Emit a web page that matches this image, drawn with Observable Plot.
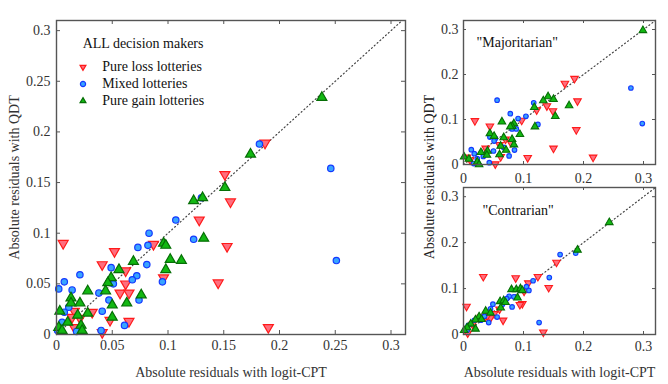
<!DOCTYPE html>
<html><head><meta charset="utf-8">
<script src="https://cdn.jsdelivr.net/npm/d3@7"></script>
<script src="https://cdn.jsdelivr.net/npm/@observablehq/plot@0.6"></script>
<style>
body{margin:0;background:#fff;}
#wrap{position:relative;width:668px;height:384px;font-family:"Liberation Serif","Times New Roman",Times,serif;color:#222;}
#wrap > svg{position:absolute;}
.lbl{position:absolute;font-size:14px;white-space:nowrap;}
</style></head><body><div id="wrap"></div>
<script>
// ---------- data: [logit-CPT residual, QDT residual] ----------
const allLoss = [[0.006,0.090],[0.052,0.082],[0.041,0.069],[0.062,0.063],[0.087,0.089],[0.096,0.056],[0.062,0.050],[0.057,0.041],[0.065,0.041],[0.016,0.023],[0.032,0.022],[0.014,0.017],[0.021,0.016],[0.048,0.014],[0.065,0.013],[0.016,0.007],[0.041,0.002],[0.128,0.113],[0.145,0.051],[0.153,0.087],[0.156,0.131],[0.151,0.158],[0.187,0.189],[0.190,0.007]];
const allMixed = [[0.107,0.113],[0.083,0.100],[0.082,0.088],[0.073,0.086],[0.081,0.069],[0.049,0.066],[0.021,0.059],[0.072,0.058],[0.068,0.054],[0.007,0.052],[0.095,0.052],[0.051,0.050],[0.002,0.045],[0.014,0.044],[0.038,0.041],[0.047,0.034],[0.074,0.034],[0.011,0.027],[0.007,0.022],[0.041,0.023],[0.123,0.094],[0.005,0.012],[0.061,0.009],[0.040,0.004],[0.018,0.003],[0.001,0.004],[0.130,0.135],[0.182,0.188],[0.246,0.164],[0.251,0.073]];
const allGain = [[0.123,0.132],[0.131,0.135],[0.151,0.145],[0.096,0.090],[0.098,0.088],[0.132,0.095],[0.102,0.074],[0.112,0.073],[0.069,0.072],[0.098,0.064],[0.056,0.064],[0.049,0.056],[0.046,0.051],[0.028,0.043],[0.044,0.043],[0.076,0.039],[0.013,0.036],[0.013,0.031],[0.021,0.031],[0.063,0.031],[0.050,0.029],[0.003,0.023],[0.028,0.021],[0.019,0.019],[0.050,0.017],[0.010,0.012],[0.022,0.009],[0.002,0.007],[0.023,0.004],[0.005,0.004],[0.174,0.178],[0.238,0.234]];

const majLoss = [[0.169,0.180],[0.185,0.191],[0.190,0.141],[0.139,0.130],[0.149,0.119],[0.122,0.121],[0.150,0.036],[0.216,0.016],[0.188,0.077],[0.107,0.015],[0.097,0.098],[0.019,0.097],[0.044,0.085],[0.070,0.056],[0.079,0.048],[0.060,0.044],[0.037,0.036],[0.053,0.001],[0.062,0.017],[0.006,0.016],[0.011,0.010]];
const majMixed = [[0.056,0.143],[0.279,0.170],[0.298,0.091],[0.117,0.137],[0.078,0.113],[0.091,0.102],[0.104,0.107],[0.124,0.089],[0.088,0.079],[0.081,0.079],[0.044,0.061],[0.053,0.058],[0.051,0.052],[0.067,0.038],[0.050,0.030],[0.076,0.019],[0.085,0.032],[0.013,0.033],[0.033,0.018],[0.043,0.004],[0.018,0.024],[0.023,0.013],[0.017,0.002]];
const majGain = [[0.299,0.298],[0.141,0.151],[0.150,0.145],[0.133,0.142],[0.176,0.131],[0.118,0.127],[0.153,0.107],[0.064,0.095],[0.084,0.091],[0.081,0.085],[0.078,0.084],[0.119,0.084],[0.094,0.067],[0.044,0.069],[0.051,0.063],[0.067,0.060],[0.081,0.056],[0.084,0.044],[0.062,0.041],[0.071,0.032],[0.040,0.030],[0.029,0.027],[0.060,0.022],[0.039,0.021],[0.001,0.017],[0.009,0.012],[0.023,0.006],[0.026,0.000]];

const conLoss = [[0.033,0.126],[0.087,0.123],[0.124,0.126],[0.108,0.112],[0.155,0.157],[0.142,0.102],[0.101,0.094],[0.098,0.067],[0.094,0.065],[0.005,0.061],[0.066,0.031],[0.133,0.005],[0.051,0.045],[0.037,0.039],[0.029,0.037],[0.045,0.036],[0.015,0.022],[0.007,0.003],[0.040,0.041],[0.060,0.055]];
const conMixed = [[0.161,0.174],[0.187,0.177],[0.143,0.124],[0.116,0.117],[0.105,0.104],[0.109,0.096],[0.076,0.083],[0.084,0.082],[0.072,0.078],[0.081,0.060],[0.049,0.066],[0.045,0.056],[0.056,0.038],[0.042,0.026],[0.126,0.026],[0.029,0.031],[0.018,0.031],[0.008,0.020],[0.006,0.009],[0.065,0.066],[0.035,0.040]];
const conGain = [[0.243,0.244],[0.190,0.184],[0.080,0.098],[0.088,0.098],[0.095,0.100],[0.098,0.096],[0.090,0.080],[0.061,0.072],[0.067,0.074],[0.062,0.058],[0.037,0.051],[0.026,0.039],[0.020,0.032],[0.012,0.023],[0.006,0.015],[0.020,0.012],[0.001,0.009],[0.045,0.047],[0.070,0.070],[0.030,0.033]];

const mainTicks = [0, 0.05, 0.1, 0.15, 0.2, 0.25, 0.3];
const sideTicks = [0, 0.1, 0.2, 0.3];
const mainDiagonal = [0, 0.31];
const sideDiagonal = [0, 0.32];
const legendTitle = "ALL decision makers";
const legendLabels = ["Pure loss lotteries", "Mixed lotteries", "Pure gain lotteries"];
const xTitle = "Absolute residuals with logit-CPT";
const yTitle = "Absolute residuals with QDT";
const panelTitles = ["\"Majoritarian\"", "\"Contrarian\""];

// ---------- styles ----------
const kinds = {
  loss:  {symbol: "triangle", rotate: 180, fill: "#ff6e7e", stroke: "#ff1a1a"},
  mixed: {symbol: "circle", rotate: 0, fill: "#38a4ff", stroke: "#1438ff"},
  gain:  {symbol: "triangle", rotate: 0, fill: "#12b812", stroke: "#066e06"}
};
const fmt = d => String(d);
const axisColor = "#555";
const FONT = "'Liberation Serif', 'Times New Roman', Times, serif";

function panel(o) {
  const pw = o.width - o.ml - o.mr, ph = o.height - o.mt - o.mb;
  const dots = (data, k, r) => Plot.dot(data, {
    x: d => d[0], y: d => d[1], symbol: kinds[k].symbol, rotate: kinds[k].rotate,
    fill: kinds[k].fill, stroke: kinds[k].stroke, strokeWidth: o.sw, r
  });
  const tk = {stroke: axisColor, strokeWidth: 1};
  return Plot.plot({
    width: o.width, height: o.height,
    marginLeft: o.ml, marginRight: o.mr, marginTop: o.mt, marginBottom: o.mb,
    style: {fontFamily: FONT, fontSize: "14px", color: "#222", background: "transparent", overflow: "visible"},
    x: {domain: o.xDomain},
    y: {domain: o.yDomain},
    marks: [
      Plot.line(o.diag, {x: d => d, y: d => d, stroke: "#444", strokeWidth: 1.2, strokeDasharray: "1,2.8"}),
      dots(o.loss, "loss", o.rt),
      dots(o.mixed, "mixed", o.rc),
      dots(o.gain, "gain", o.rt),
      Plot.ruleX(o.ticks, {x: d => d, insetTop: ph - o.ts, ...tk}),
      Plot.ruleX(o.ticks, {x: d => d, insetBottom: ph - o.ts, ...tk}),
      Plot.ruleY(o.ticks, {y: d => d, insetRight: pw - o.ts, ...tk}),
      Plot.ruleY(o.ticks, {y: d => d, insetLeft: pw - o.ts, ...tk}),
      Plot.frame({stroke: axisColor, strokeWidth: 1.4}),
      Plot.axisX(o.ticks, {anchor: "bottom", tickSize: 0, tickPadding: o.xpad, tickFormat: fmt, fill: "#333", fontSize: 14,
        label: o.xLabel, labelAnchor: "center", labelArrow: "none", labelOffset: 42}),
      Plot.axisY(o.ticks, {anchor: "left", tickSize: 0, tickPadding: o.ypad, tickFormat: fmt, fill: "#333", fontSize: 14,
        label: o.yLabel, labelAnchor: "center", labelArrow: "none", labelOffset: 47}),
      o.title ? Plot.text([o.title], {frameAnchor: "top-left", dx: o.tdx, dy: o.tdy, textAnchor: "start", lineAnchor: "middle", fontSize: 14, fill: "#111"}) : null
    ]
  });
}

const wrap = document.getElementById("wrap");

const main = panel({width: 420, height: 384, ml: 56, mr: 15, mt: 20, mb: 50,
  xDomain: [0, 0.313], yDomain: [0, 0.31], ticks: mainTicks, diag: mainDiagonal,
  loss: allLoss, mixed: allMixed, gain: allGain, rt: 3.7, rc: 3.2, sw: 1.2, ts: 4,
  xpad: 6, ypad: 6, xLabel: xTitle, yLabel: yTitle});
main.style.left = "0px"; main.style.top = "0px";
wrap.appendChild(main);

const maj = panel({width: 248, height: 184, ml: 43, mr: 13, mt: 20, mb: 20,
  xDomain: [0, 0.32], yDomain: [0, 0.32], ticks: sideTicks, diag: sideDiagonal,
  loss: majLoss, mixed: majMixed, gain: majGain, rt: 2.8, rc: 2.3, sw: 1.1, ts: 3,
  xpad: 9, ypad: 5, xLabel: null, yLabel: null, title: panelTitles[0], tdx: 13, tdy: 22});
maj.style.left = "420px"; maj.style.top = "0px";
wrap.appendChild(maj);

const con = panel({width: 248, height: 217, ml: 43, mr: 13, mt: 20, mb: 50,
  xDomain: [0, 0.32], yDomain: [0, 0.32], ticks: sideTicks, diag: sideDiagonal,
  loss: conLoss, mixed: conMixed, gain: conGain, rt: 2.8, rc: 2.3, sw: 1.1, ts: 3,
  xpad: 7, ypad: 5, xLabel: xTitle, yLabel: null, title: panelTitles[1], tdx: 19, tdy: 23});
con.style.left = "420px"; con.style.top = "167px";
wrap.appendChild(con);

// shared y label for the right panels
const yl = document.createElement("div");
yl.className = "lbl";
yl.textContent = yTitle;
yl.style.left = "430px"; yl.style.top = "177px";
yl.style.transform = "translate(-50%,-50%) rotate(-90deg)";
wrap.appendChild(yl);

// legend (HTML overlay)
const leg = document.createElement("div");
leg.style.cssText = "position:absolute;left:74.7px;top:36px;font-size:14px;color:#111;";
const t = document.createElement("div");
t.textContent = legendTitle;
t.style.cssText = "position:absolute;left:8px;top:0px;white-space:nowrap;line-height:16px;";
leg.appendChild(t);
const keyOrder = ["loss", "mixed", "gain"];
legendLabels.forEach((lab, i) => {
  const k = kinds[keyOrder[i]];
  const row = document.createElement("div");
  row.style.cssText = `position:absolute;left:0px;top:${22.7 + i * 17.2}px;white-space:nowrap;height:16px;line-height:16px;`;
  const size = k.symbol === "circle" ? Math.PI * 2.6 * 2.6 : Math.PI * 2.8 * 2.8;
  const path = d3.symbol(k.symbol === "circle" ? d3.symbolCircle : d3.symbolTriangle2, size)();
  row.innerHTML = `<svg width="16" height="16" style="position:absolute;left:0px;top:0px"><path d="${path}" transform="translate(8,8) rotate(${k.rotate})" fill="${k.fill}" stroke="${k.stroke}" stroke-width="1.2"/></svg><span style="position:absolute;left:27.6px;top:0px">${lab}</span>`;
  leg.appendChild(row);
});
wrap.appendChild(leg);
</script></body></html>
